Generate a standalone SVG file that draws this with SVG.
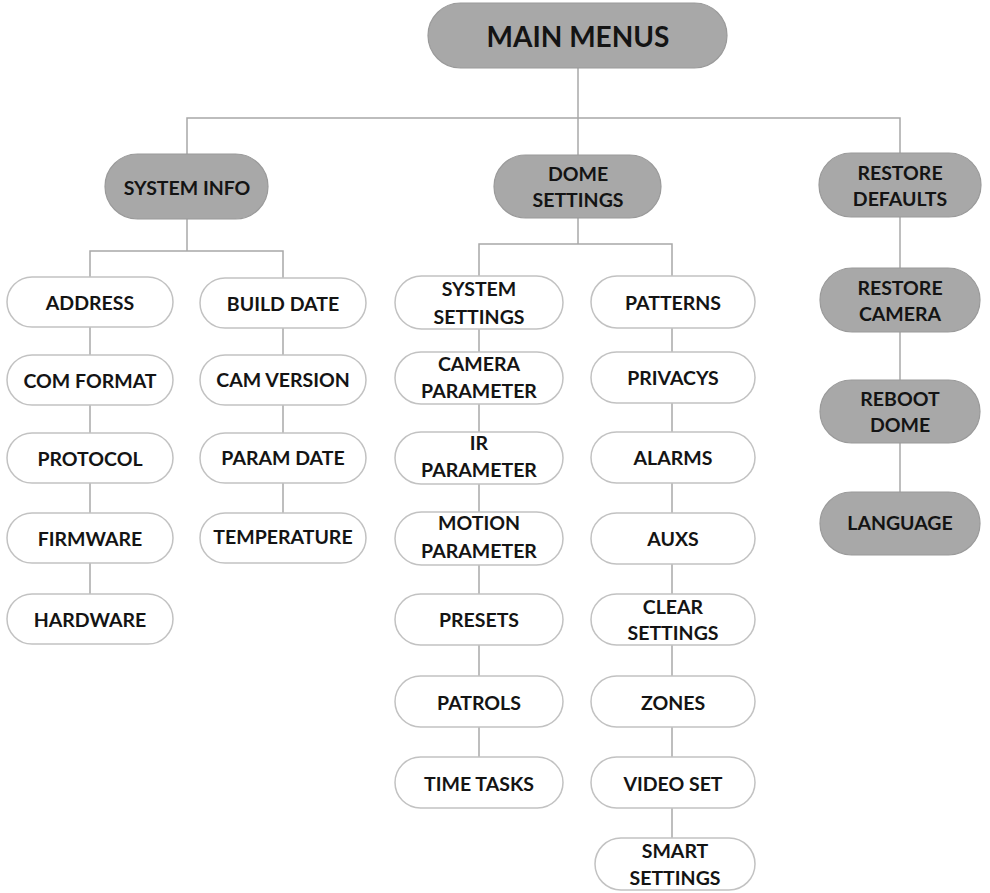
<svg xmlns="http://www.w3.org/2000/svg" width="990" height="893" viewBox="0 0 990 893">
<style>
.g{fill:#a8a8a8;stroke:#9a9a9a;stroke-width:1.2}
.w{fill:#fff;stroke:#c2c2c2;stroke-width:1.5}
.t{font-family:Lato,"Liberation Sans",sans-serif;font-weight:bold;font-size:19.5px;fill:#141414;text-anchor:middle;dominant-baseline:central}
.big{font-size:28px}
.c{fill:none;stroke:#a8a8a8;stroke-width:1.5}
</style>
<rect width="990" height="893" fill="#fff"/>
<g id="connectors" class="c">
<path d="M578 68V155"/>
<path d="M187 154V118H900V153"/>
<path d="M187 219V251"/>
<path d="M90 277V251H283V278"/>
<path d="M90 277V594"/>
<path d="M283 278V513"/>
<path d="M578 218V244"/>
<path d="M479 276V244H672V276"/>
<path d="M479 276V757"/>
<path d="M672 276V838"/>
<path d="M900 216V492"/>
</g>
<g id="main-menus"><rect class="g" x="428" y="3" width="299" height="65" rx="32.5"/><text class="t big" x="578" y="36">MAIN MENUS</text></g>
<g id="system-info"><rect class="g" x="105" y="154" width="163" height="65" rx="32.5"/><text class="t" x="187" y="187">SYSTEM INFO</text></g>
<g id="dome-settings"><rect class="g" x="494" y="155" width="167" height="63" rx="31.5"/><text class="t" x="578" y="173">DOME</text><text class="t" x="578" y="199">SETTINGS</text></g>
<g id="restore-defaults"><rect class="g" x="819" y="153" width="162" height="64" rx="32"/><text class="t" x="900" y="172">RESTORE</text><text class="t" x="900" y="198">DEFAULTS</text></g>
<g id="restore-camera"><rect class="g" x="820" y="268" width="160" height="64" rx="32"/><text class="t" x="900" y="287">RESTORE</text><text class="t" x="900" y="313">CAMERA</text></g>
<g id="reboot-dome"><rect class="g" x="820" y="380" width="160" height="63" rx="31.5"/><text class="t" x="900" y="398">REBOOT</text><text class="t" x="900" y="424">DOME</text></g>
<g id="language"><rect class="g" x="820" y="492" width="160" height="63" rx="31.5"/><text class="t" x="900" y="522">LANGUAGE</text></g>

<g id="address"><rect class="w" x="7" y="277" width="166" height="50" rx="25"/><text class="t" x="90" y="302">ADDRESS</text></g>
<g id="com-format"><rect class="w" x="7" y="355" width="166" height="50" rx="25"/><text class="t" x="90" y="380">COM FORMAT</text></g>
<g id="protocol"><rect class="w" x="7" y="433" width="166" height="50" rx="25"/><text class="t" x="90" y="458">PROTOCOL</text></g>
<g id="firmware"><rect class="w" x="7" y="513" width="166" height="50" rx="25"/><text class="t" x="90" y="538">FIRMWARE</text></g>
<g id="hardware"><rect class="w" x="7" y="594" width="166" height="50" rx="25"/><text class="t" x="90" y="619">HARDWARE</text></g>

<g id="build-date"><rect class="w" x="200" y="278" width="166" height="50" rx="25"/><text class="t" x="283" y="303">BUILD DATE</text></g>
<g id="cam-version"><rect class="w" x="200" y="355" width="166" height="50" rx="25"/><text class="t" x="283" y="379">CAM VERSION</text></g>
<g id="param-date"><rect class="w" x="200" y="433" width="166" height="50" rx="25"/><text class="t" x="283" y="457">PARAM DATE</text></g>
<g id="temperature"><rect class="w" x="200" y="513" width="166" height="50" rx="25"/><text class="t" x="283" y="536">TEMPERATURE</text></g>

<g id="system-settings"><rect class="w" x="395" y="276" width="168" height="53" rx="26.5"/><text class="t" x="479" y="288">SYSTEM</text><text class="t" x="479" y="316">SETTINGS</text></g>
<g id="camera-parameter"><rect class="w" x="395" y="352" width="168" height="52" rx="26"/><text class="t" x="479" y="363">CAMERA</text><text class="t" x="479" y="390">PARAMETER</text></g>
<g id="ir-parameter"><rect class="w" x="395" y="432" width="168" height="52" rx="26"/><text class="t" x="479" y="442">IR</text><text class="t" x="479" y="469">PARAMETER</text></g>
<g id="motion-parameter"><rect class="w" x="395" y="512" width="168" height="53" rx="26.5"/><text class="t" x="479" y="522">MOTION</text><text class="t" x="479" y="550">PARAMETER</text></g>
<g id="presets"><rect class="w" x="395" y="594" width="168" height="51" rx="25.5"/><text class="t" x="479" y="619">PRESETS</text></g>
<g id="patrols"><rect class="w" x="395" y="676" width="168" height="51" rx="25.5"/><text class="t" x="479" y="702">PATROLS</text></g>
<g id="time-tasks"><rect class="w" x="395" y="757" width="168" height="51" rx="25.5"/><text class="t" x="479" y="783">TIME TASKS</text></g>

<g id="patterns"><rect class="w" x="591" y="276" width="164" height="52" rx="26"/><text class="t" x="673" y="302">PATTERNS</text></g>
<g id="privacys"><rect class="w" x="591" y="352" width="164" height="51" rx="25.5"/><text class="t" x="673" y="377">PRIVACYS</text></g>
<g id="alarms"><rect class="w" x="591" y="432" width="164" height="51" rx="25.5"/><text class="t" x="673" y="457">ALARMS</text></g>
<g id="auxs"><rect class="w" x="591" y="513" width="164" height="51" rx="25.5"/><text class="t" x="673" y="538">AUXS</text></g>
<g id="clear-settings"><rect class="w" x="591" y="594" width="164" height="51" rx="25.5"/><text class="t" x="673" y="606">CLEAR</text><text class="t" x="673" y="632">SETTINGS</text></g>
<g id="zones"><rect class="w" x="591" y="676" width="164" height="51" rx="25.5"/><text class="t" x="673" y="702">ZONES</text></g>
<g id="video-set"><rect class="w" x="591" y="757" width="164" height="51" rx="25.5"/><text class="t" x="673" y="783">VIDEO SET</text></g>
<g id="smart-settings"><rect class="w" x="595" y="838" width="160" height="52" rx="26"/><text class="t" x="675" y="850">SMART</text><text class="t" x="675" y="877">SETTINGS</text></g>
</svg>
